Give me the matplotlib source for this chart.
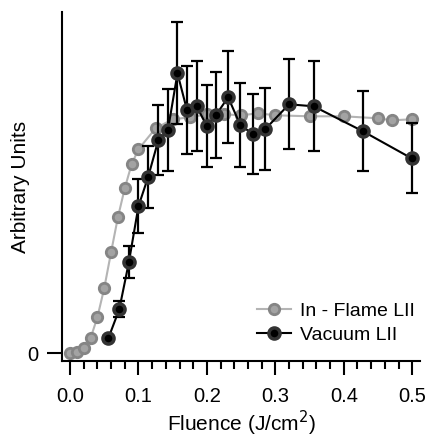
import matplotlib.pyplot as plt
import numpy as np

plt.rcParams['font.family'] = ['Liberation Sans', 'DejaVu Sans']

# in-flame LII (grey)
flame_x = [0.0, 0.01, 0.02, 0.03, 0.04, 0.05, 0.06, 0.07, 0.08, 0.09, 0.10,
           0.125, 0.15, 0.175, 0.20, 0.225, 0.25, 0.275, 0.30, 0.35, 0.40,
           0.45, 0.47, 0.50]
flame_y = [0, 1, 5, 15, 36, 65, 101, 136, 165, 189, 204,
           225, 234, 236, 239, 239, 238, 240, 238, 237, 237,
           235, 233, 234]

# vacuum LII (black) with error bars
vac_x = [0.056, 0.072, 0.086, 0.100, 0.114, 0.129, 0.143, 0.157, 0.171, 0.185,
         0.200, 0.213, 0.231, 0.249, 0.268, 0.285, 0.320, 0.356, 0.428, 0.499]
vac_y = [15, 44, 91, 147, 176, 213, 223, 280, 243, 247,
         227, 238, 256, 228, 219, 224, 249, 247, 222, 195]
vac_err = [2, 8, 16, 27, 31, 35, 41, 51, 44, 45,
           41, 43, 46, 42, 40, 41, 45, 45, 40, 35]

fig = plt.figure(figsize=(4.26, 4.38), dpi=100)
ax = fig.add_axes([0.1455, 0.1758, 0.8404, 0.7968])

ax.plot(flame_x, flame_y, '-o', color='#b4b4b4', lw=1.5,
        mfc='#a3a3a3', mec='#858585', mew=2, ms=7.5, label='In - Flame LII', zorder=2)
ax.errorbar(vac_x, vac_y, yerr=vac_err, fmt='none', ecolor='black',
            elinewidth=1.6, capsize=4.5, capthick=1.6, zorder=3)
ax.plot(vac_x, vac_y, '-o', color='black', lw=1.5,
        mfc='black', mec='#333333', mew=2.5, ms=8, label='Vacuum LII', zorder=4)

ax.set_xlim(-0.0117, 0.5113)
ax.set_ylim(-7.7, 341.3)

ax.spines['top'].set_visible(False)
ax.spines['right'].set_visible(False)
ax.spines['left'].set_linewidth(1.5)
ax.spines['bottom'].set_linewidth(1.5)

ax.set_xticks([0.0, 0.1, 0.2, 0.3, 0.4, 0.5])
ax.set_xticklabels(['0.0', '0.1', '0.2', '0.3', '0.4', '0.5'])
ax.set_xticks(np.arange(0, 0.51, 0.02), minor=True)
ax.set_yticks([0])
ax.set_yticklabels(['0'])
ax.tick_params(axis='x', which='major', direction='out', length=10, width=1.5, labelsize=14.5, pad=9)
ax.tick_params(axis='x', which='minor', direction='out', length=5.5, width=1.5)
ax.tick_params(axis='y', which='major', direction='out', length=11, width=1.5, labelsize=14.5, pad=6)

ax.set_xlabel('Fluence (J/cm$^2$)', fontsize=15, labelpad=2)
ax.set_ylabel('Arbitrary Units', fontsize=15)
ax.yaxis.set_label_coords(-0.088, 0.5)

ax.legend(loc='upper left', bbox_to_anchor=(0.545, 0.168), frameon=False, fontsize=14,
          handlelength=1.75, handletextpad=0.45, labelspacing=0.33,
          borderpad=0, borderaxespad=0)

plt.savefig('out.png', dpi=100)
